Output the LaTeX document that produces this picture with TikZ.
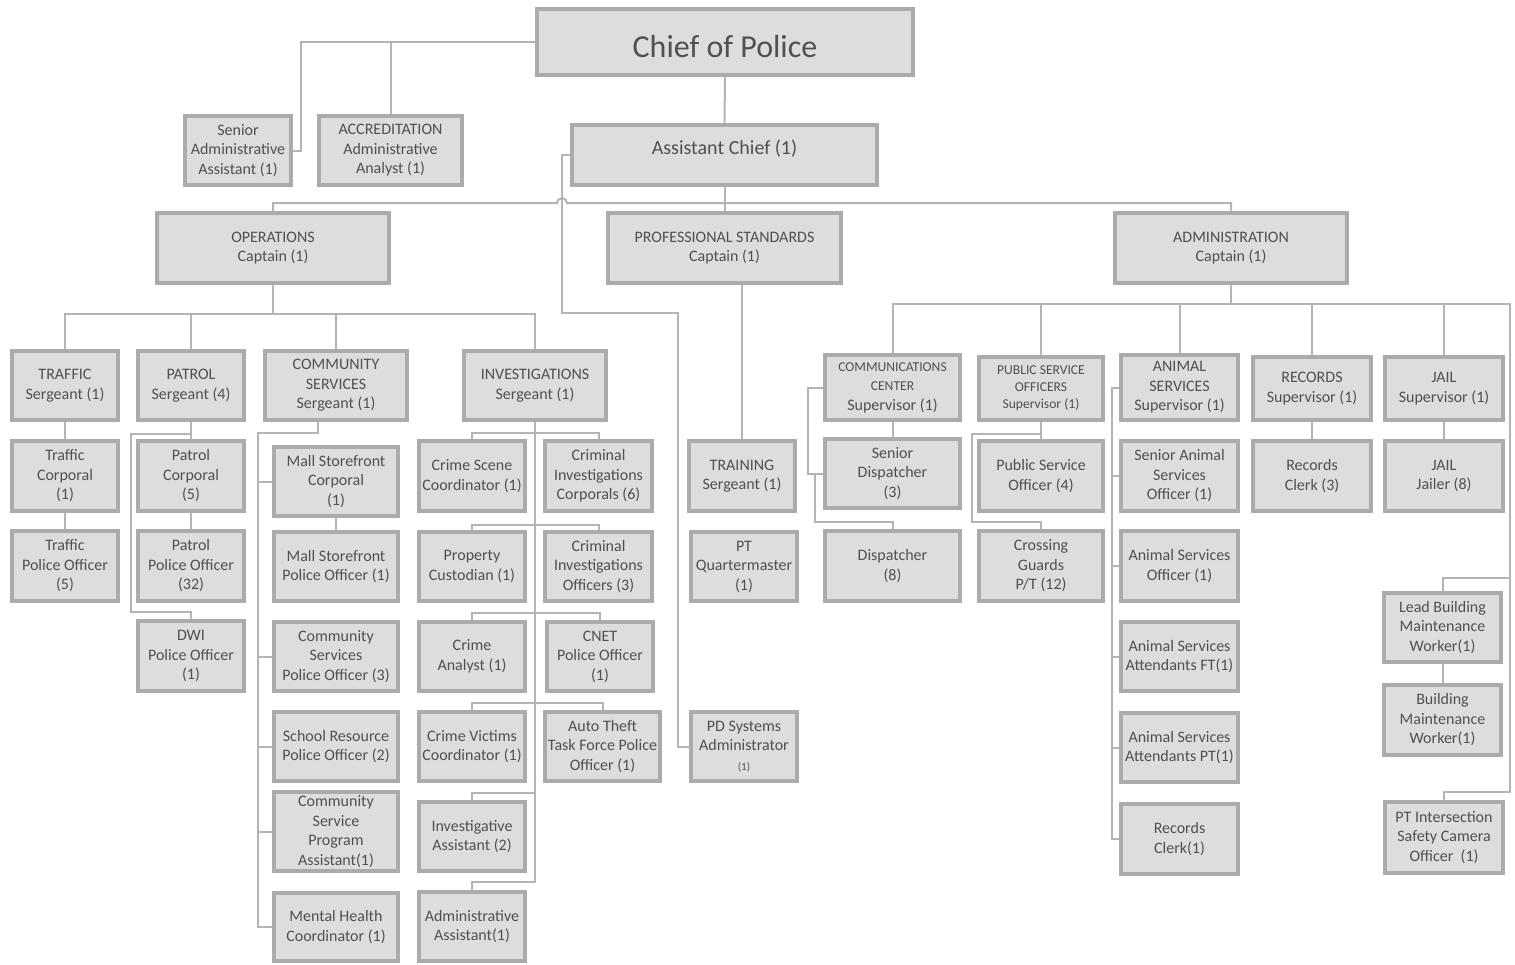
\documentclass[tikz,border=0pt]{standalone}
\usepackage{fontspec}
\setmainfont{Carlito}
\definecolor{fillc}{HTML}{DDDDDF}
\definecolor{bordc}{HTML}{ABABAB}
\definecolor{txtc}{HTML}{505050}
\definecolor{connc}{HTML}{B4B4B4}
\pgfdeclarelayer{bg}
\pgfsetlayers{bg,main}
\newcommand\smf{\fontsize{6.8}{8.5}\selectfont}
\newcommand\nmf{\fontsize{8}{9.75}\selectfont}
\newcommand\orgbox[7][]{%
  \pgfmathsetmacro\obcx{(#3+#5)/2}%
  \pgfmathsetmacro\obcy{(#4+#6)/2}%
  \pgfmathsetmacro\obw{(#5-#3)*0.5-2}%
  \pgfmathsetmacro\obh{(#6-#4)*0.5-2}%
  \node[box,minimum width=\obw pt,minimum height=\obh pt,#1] (#2) at (\obcx,\obcy) {#7};}
\tikzset{
  box/.style={draw=bordc,line width=1.8pt,fill=fillc,text=txtc,align=center,inner sep=0pt,font=\nmf},
  conn/.style={draw=connc,line width=1pt}
}
\begin{document}
\begin{tikzpicture}[x=0.5pt,y=-0.5pt]
\useasboundingbox (0,0) rectangle (1515,964);
% ---- boxes ----
\orgbox[font=\fontsize{16}{19}\selectfont]{chief}{535}{7}{915}{77}{\raisebox{-2pt}[\height][\depth]{Chief of Police}}
\orgbox{sad}{183}{114}{293}{187}{Senior\\Administrative\\Assistant (1)}
\orgbox{acc}{317}{114}{464}{187}{ACCREDITATION\\Administrative\\Analyst (1)}
\orgbox[font=\fontsize{10}{12}\selectfont]{ac}{570}{123}{879}{187}{\raisebox{3pt}[\height][\depth]{Assistant Chief (1)}}
\orgbox{ops}{155}{211}{391}{285}{OPERATIONS\\Captain (1)}
\orgbox{ps}{606}{211}{843}{285}{PROFESSIONAL STANDARDS\\Captain (1)}
\orgbox{adm}{1113}{211}{1349}{285}{ADMINISTRATION\\Captain (1)}
% operations
\orgbox{trf}{10}{349}{120}{422}{TRAFFIC\\Sergeant (1)}
\orgbox{pat}{136}{349}{246}{422}{PATROL\\Sergeant (4)}
\orgbox{cs}{263}{349}{409}{422}{COMMUNITY\\SERVICES\\Sergeant (1)}
\orgbox{inv}{462}{349}{608}{422}{INVESTIGATIONS\\Sergeant (1)}
\orgbox{trfc}{10}{439}{120}{513}{Traffic\\Corporal\\(1)}
\orgbox{trfo}{10}{529}{120}{603}{Traffic\\Police Officer\\(5)}
\orgbox{patc}{136}{439}{246}{513}{Patrol\\Corporal\\(5)}
\orgbox{pato}{136}{529}{246}{603}{Patrol\\Police Officer\\(32)}
\orgbox{dwi}{136}{619}{246}{693}{DWI\\Police Officer\\(1)}
\orgbox{msc}{272}{445}{400}{518}{Mall Storefront\\Corporal\\(1)}
\orgbox{mso}{272}{530}{400}{603}{Mall Storefront\\Police Officer (1)}
\orgbox{cspo}{272}{620}{400}{693}{Community\\Services\\Police Officer (3)}
\orgbox{sro}{272}{710}{400}{783}{School Resource\\Police Officer (2)}
\orgbox{cspa}{272}{790}{400}{873}{Community\\Service\\Program\\Assistant(1)}
\orgbox{mhc}{272}{891}{400}{963}{Mental Health\\Coordinator (1)}
\orgbox{csc}{417}{439}{527}{513}{Crime Scene\\Coordinator (1)}
\orgbox{cic}{543}{439}{654}{513}{Criminal\\Investigations\\Corporals (6)}
\orgbox{pcu}{417}{530}{527}{603}{Property\\Custodian (1)}
\orgbox{cio}{543}{530}{654}{603}{Criminal\\Investigations\\Officers (3)}
\orgbox{can}{417}{620}{527}{693}{Crime\\Analyst (1)}
\orgbox{cnet}{545}{620}{655}{693}{CNET\\Police Officer\\(1)}
\orgbox{cvc}{417}{710}{527}{783}{Crime Victims\\Coordinator (1)}
\orgbox{atf}{543}{710}{662}{783}{Auto Theft\\Task Force Police\\Officer (1)}
\orgbox{ia}{417}{800}{527}{873}{Investigative\\Assistant (2)}
\orgbox{adma}{417}{890}{527}{963}{Administrative\\Assistant(1)}
% professional standards
\orgbox{trn}{687}{439}{797}{513}{TRAINING\\Sergeant (1)}
\orgbox{ptq}{689}{530}{799}{603}{PT\\Quartermaster\\(1)}
\orgbox{pds}{689}{710}{799}{783}{PD Systems\\Administrator\\{\fontsize{5.5}{7}\selectfont (1)}}
% administration
\orgbox{comm}{823}{353}{962}{422}{{\smf COMMUNICATIONS}\\{\smf CENTER}\\Supervisor (1)}
\orgbox{sdp}{823}{437}{962}{510}{Senior\\Dispatcher\\(3)}
\orgbox{dsp}{823}{529}{962}{603}{Dispatcher\\(8)}
\orgbox[font=\smf]{pso}{977}{355}{1105}{422}{PUBLIC SERVICE\\OFFICERS\\Supervisor (1)}
\orgbox{psoo}{977}{439}{1105}{513}{Public Service\\Officer (4)}
\orgbox{cg}{977}{529}{1105}{603}{Crossing\\Guards\\P/T (12)}
\orgbox{ans}{1119}{353}{1240}{422}{ANIMAL\\SERVICES\\Supervisor (1)}
\orgbox{saso}{1119}{439}{1240}{513}{Senior Animal\\Services\\Officer (1)}
\orgbox{aso}{1119}{529}{1240}{603}{Animal Services\\Officer (1)}
\orgbox{aft}{1119}{620}{1240}{693}{Animal Services\\Attendants FT(1)}
\orgbox{apt}{1119}{711}{1240}{784}{Animal Services\\Attendants PT(1)}
\orgbox{rcl}{1119}{802}{1240}{876}{Records\\Clerk(1)}
\orgbox{rec}{1251}{355}{1373}{422}{RECORDS\\Supervisor (1)}
\orgbox{recc}{1251}{439}{1373}{513}{Records\\Clerk (3)}
\orgbox{jail}{1383}{355}{1505}{422}{JAIL\\Supervisor (1)}
\orgbox{jlr}{1383}{439}{1505}{513}{JAIL\\Jailer (8)}
\orgbox{lbm}{1382}{591}{1503}{664}{Lead Building\\Maintenance\\Worker(1)}
\orgbox{bmw}{1382}{683}{1503}{757}{Building\\Maintenance\\Worker(1)}
\orgbox{ptc}{1383}{800}{1505}{875}{PT Intersection\\Safety Camera\\Officer\ \ (1)}
% ---- connectors ----
\coordinate (X301) at (301,0);
\coordinate (X678) at (678,0);
\coordinate (Y314) at (0,314);
\coordinate (X318) at (318,0);
\coordinate (X258) at (258,0);
\coordinate (Y304) at (0,304);
\coordinate (X808) at (808,0);
\coordinate (X815) at (815,0);
\coordinate (X1112) at (1112,0);
\begin{pgfonlayer}{bg}
\draw[conn] (chief.west) -| (X301 |- sad.east) -- (sad.east);
\draw[conn] (acc.north) |- (chief.west);
\draw[conn] (chief.south) -- (ac.north);
\draw[conn] (ac.south) -- (ps.north);
\draw[conn] (ops.north) |- (557,203) arc[start angle=180,end angle=360,radius=5] -| (adm.north);
\draw[conn] (ac.west) -| (562,313) -| (X678 |- pds.west) -- (pds.west);
% operations
\draw[conn] (ops.south) -- (ops.south |- Y314);
\draw[conn] (trf.north) |- (inv.north |- Y314) -- (inv.north);
\draw[conn] (pat.north) -- (pat.north |- Y314);
\draw[conn] (cs.north) -- (cs.north |- Y314);
\draw[conn] (trf.south) -- (trfc.north);
\draw[conn] (trfc.south) -- (trfo.north);
\draw[conn] (pat.south) -- (patc.north);
\draw[conn] (patc.south) -- (pato.north);
\draw[conn] (pat.south) |- (131,434) -- (131,612) -| (dwi.north);
\draw[conn] (X318 |- cs.south) |- (258,433) |- (mhc.west);
\draw[conn] (msc.west) -- (msc.west -| X258);
\draw[conn] (cspo.west) -- (cspo.west -| X258);
\draw[conn] (sro.west) -- (sro.west -| X258);
\draw[conn] (cspa.west) -- (cspa.west -| X258);
\draw[conn] (msc.south) -- (mso.north);
\draw[conn] (inv.south) -- (535,882) -| (adma.north);
\draw[conn] (csc.north) |- (598.5,433) -- (cic.north);
\draw[conn] (pcu.north) |- (598.5,525) -- (cio.north);
\draw[conn] (can.north) |- (600,613) -- (cnet.north);
\draw[conn] (cvc.north) |- (602.5,703) -- (atf.north);
\draw[conn] (ia.north) |- (535,793);
% professional standards
\draw[conn] (ps.south -| trn.north) -- (trn.north);
% administration
\draw[conn] (adm.south) -- (adm.south |- Y304);
\draw[conn] (comm.north) |- (1510,304) -- (1510,792) -| (ptc.north);
\draw[conn] (lbm.north) |- (1510,578);
\draw[conn] (pso.north) -- (pso.north |- Y304);
\draw[conn] (ans.north) -- (ans.north |- Y304);
\draw[conn] (rec.north) -- (rec.north |- Y304);
\draw[conn] (jail.north) -- (jail.north |- Y304);
\draw[conn] (comm.south) -- (sdp.north);
\draw[conn] (comm.west) -| (X808 |- sdp.west) -- (sdp.west);
\draw[conn] (sdp.west -| X815) -- (815,522) -| (dsp.north);
\draw[conn] (pso.south) -- (psoo.north);
\draw[conn] (pso.south) |- (972,434) -- (972,522) -| (cg.north);
\draw[conn] (ans.west) -| (X1112 |- rcl.west) -- (rcl.west);
\draw[conn] (saso.west) -- (saso.west -| X1112);
\draw[conn] (aso.west) -- (aso.west -| X1112);
\draw[conn] (aft.west) -- (aft.west -| X1112);
\draw[conn] (apt.west) -- (apt.west -| X1112);
\draw[conn] (rec.south) -- (recc.north);
\draw[conn] (jail.south) -- (jlr.north);
\draw[conn] (lbm.south) -- (bmw.north);
\end{pgfonlayer}
\end{tikzpicture}
\end{document}
